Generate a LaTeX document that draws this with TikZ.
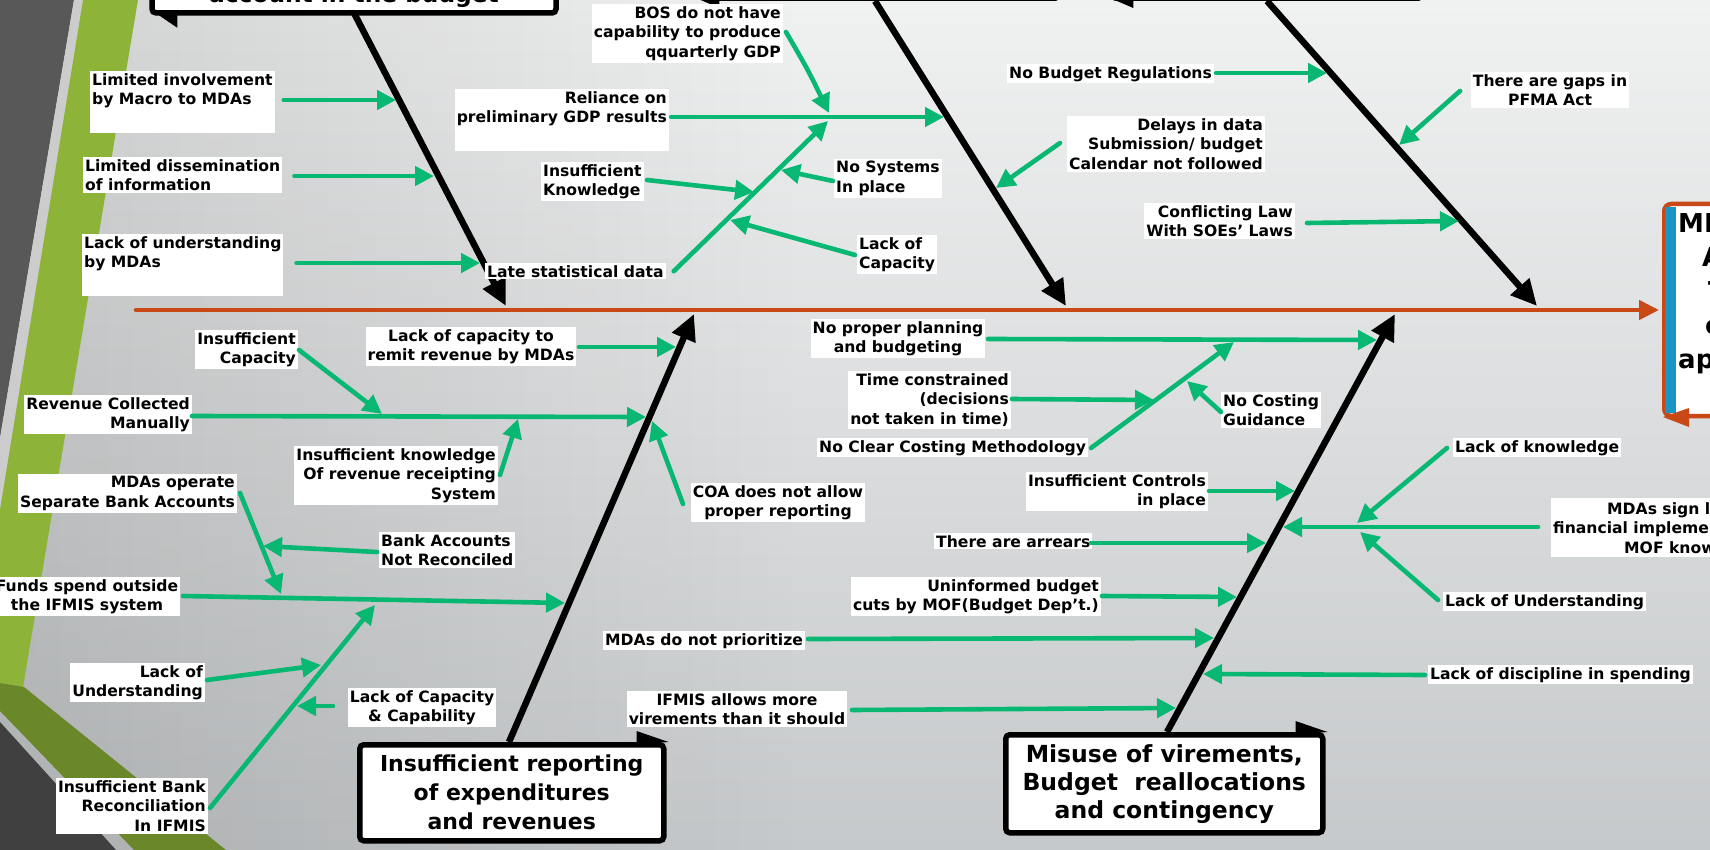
\documentclass[tikz,border=0pt]{standalone}
\usepackage{fontspec}
\setmainfont{DejaVu Sans}
\usetikzlibrary{arrows.meta,fadings}
\definecolor{grn}{RGB}{8,184,114}
\definecolor{org}{RGB}{200,72,22}
\definecolor{blu}{RGB}{26,148,196}
\definecolor{olv}{RGB}{106,136,42}
\definecolor{lgr}{RGB}{141,180,56}
\definecolor{dgy}{RGB}{88,88,88}
\definecolor{dgyb}{RGB}{64,64,64}
\definecolor{bgt}{RGB}{240,241,241}
\definecolor{bgb}{RGB}{198,201,203}
\newcommand\lblf{\bfseries\fontsize{15.6}{19.8}\selectfont}
\newcommand\catf{\bfseries\fontsize{22}{29}\selectfont}
\newcommand\misf{\bfseries\fontsize{23.5}{28}\selectfont}
\tikzfading[name=fadr, left color=transparent!0, right color=transparent!100]
\begin{document}
\begin{tikzpicture}[x=1pt,y=-1pt,
  lbl/.style={fill=white,inner xsep=2pt,inner ysep=2pt,font=\lblf},
  garr/.style={draw=grn,line width=4.6pt,line cap=round,-{Triangle[length=19pt,width=19pt]}},
  bone/.style={draw=black,line width=6.5pt,-{Triangle[length=26pt,width=24pt]}},
  catbox/.style={draw=black,fill=white,line width=5.5pt,rounded corners=4pt,align=center,inner sep=3pt}]
\useasboundingbox (0,0) rectangle (1710,850);
\clip (0,0) rectangle (1710,850);
% background
\shade[top color=bgt,bottom color=bgb] (0,0) rectangle (1710,850);
\fill[black,opacity=0.13,path fading=fadr] (0,0) rectangle (800,850);
\fill[dgy] (0,0) -- (74,0) -- (0,438) -- cycle;
\fill[black!20] (74,0) -- (83,0) -- (0,510) -- (0,438) -- cycle;
\fill[lgr] (83,0) -- (138,0) -- (23,687) -- (0,683) -- (0,510) -- cycle;
\fill[olv] (0,683) -- (24,687) -- (226,850) -- (134,850) -- (0,711) -- cycle;
\fill[dgyb] (0,722) -- (116,850) -- (0,850) -- cycle;

% effect box
\node[draw=org,line width=4.5pt,fill=white,rounded corners=7pt,minimum width=120pt,minimum height=212pt,anchor=west] (eff) at (1662,310) {};
\fill[blu] (1664.5,207) rectangle (1676,413);
\node[anchor=north west,inner sep=0pt,font=\bfseries\fontsize{26}{34}\selectfont,align=left] (efft) at (1678,213) {MD\\\hspace*{24pt}A\\\hspace*{30pt}T\\\hspace*{27pt}c\\ap};
\fill[org] (1663,417) -- (1689,408) -- (1689,427) -- cycle;

% spine
\coordinate (sp0) at (136,310);
\draw[org,line width=4.6pt,line cap=round,-{Triangle[length=20pt,width=19pt]}] (sp0) -- ([xshift=-3pt]eff.west);

% bones
\coordinate (b1s) at (354,13);  \coordinate (t1) at (506,306);
\coordinate (b2s) at (875,1);   \coordinate (t2) at (1066,306);
\coordinate (b3s) at (1267,1);  \coordinate (t3) at (1537,306);
\coordinate (b4s) at (509,742); \coordinate (t4) at (694,314);
\coordinate (b5s) at (1167,732);\coordinate (t5) at (1395,314);
\draw[bone] (b1s) -- (t1);
\draw[bone] (b2s) -- (t2);
\draw[bone] (b3s) -- (t3);
\draw[bone] (b4s) -- (t4);
\draw[bone] (b5s) -- (t5);

% top category boxes (cut by the frame)
\node[catbox,minimum width=404pt,text height=40pt,text depth=7pt,inner ysep=3pt,font=\bfseries\fontsize{23.3}{29}\selectfont,anchor=base] (topA) at (354,3) {account in the budget};
\node[catbox,minimum width=356pt,minimum height=50pt,anchor=south] (topB) at (881,1) {};
\node[catbox,minimum width=310pt,minimum height=50pt,anchor=south] (topC) at (1267,1) {};
\fill ([shift={(6,-3)}]topA.south west) -- ++(22,2) -- ++(0,13) -- cycle;
\fill ([shift={(-2,-2)}]topB.south west) -- ++(21,1) -- ++(0,8) -- cycle;
\fill ([shift={(3,-2)}]topC.south west) -- ++(21,1) -- ++(0,8) -- cycle;

% labels
\node[lbl,anchor=north west,align=left] (L1) at (90,71) {Limited involvement\\by Macro to MDAs\\\strut};
\node[lbl,anchor=north west,align=left] (L2) at (83,157) {Limited dissemination\\of information};
\node[lbl,anchor=north west,align=left] (L3) at (82,234) {Lack of understanding\\by MDAs\\\strut};
\node[lbl,anchor=north west] (L4) at (485,263) {Late statistical data};
\node[lbl,anchor=north east,align=right] (L5) at (669,89) {Reliance on\\preliminary GDP results\\\strut};
\node[lbl,anchor=north east,align=right] (L6) at (783,4) {BOS do not have\\capability to produce\\qquarterly GDP};
\node[lbl,anchor=north west,align=left] (L7) at (541,162) {Insufficient\\Knowledge};
\node[lbl,anchor=north west,align=left] (L8) at (834,159) {No Systems\\In place};
\node[lbl,anchor=north west,align=left] (L9) at (857,235) {Lack of\\Capacity};
\node[lbl,anchor=north west] (L10) at (1007,64) {No Budget Regulations};
\node[lbl,anchor=north east,align=right] (L11) at (1265,116) {Delays in data\\Submission/ budget\\Calendar not followed};
\node[lbl,anchor=north east,align=right] (L12) at (1295,203) {Conflicting Law\\With SOEs’ Laws};
\node[lbl,anchor=north,align=center] (L13) at (1550,72) {There are gaps in\\PFMA Act};
\node[lbl,anchor=north east,align=right] (L14) at (298,330) {Insufficient\\Capacity};
\node[lbl,anchor=north,align=center] (L15) at (471,327) {Lack of capacity to\\remit revenue by MDAs};
\node[lbl,anchor=north east,align=right] (L16) at (192,395) {Revenue Collected\\Manually};
\node[lbl,anchor=north east,align=right] (L17) at (498,446) {Insufficient knowledge\\Of revenue receipting\\System};
\node[lbl,anchor=north,align=center] (L18) at (778,483) {COA does not allow\\proper reporting};
\node[lbl,anchor=north east,align=right] (L19) at (237,474) {MDAs operate\\Separate Bank Accounts};
\node[lbl,anchor=north west,align=left] (L20) at (379,532) {Bank Accounts\\Not Reconciled};
\node[lbl,anchor=north,align=center] (L21) at (87,577) {Funds spend outside\\the IFMIS system};
\node[lbl,anchor=north east,align=right] (L22) at (205,663) {Lack of\\Understanding};
\node[lbl,anchor=north,align=center] (L23) at (422,688) {Lack of Capacity\\\& Capability};
\node[lbl,anchor=north east,align=right] (L24) at (208,778) {Insufficient Bank\\Reconciliation\\In IFMIS};
\node[lbl,anchor=north,align=center] (L25) at (898,319) {No proper planning\\and budgeting};
\node[lbl,anchor=north east,align=right] (L26) at (1011,371) {Time constrained\\(decisions\\not taken in time)};
\node[lbl,anchor=north west] (L27) at (817,438) {No Clear Costing Methodology};
\node[lbl,anchor=north west,align=left] (L28) at (1221,392) {No Costing\\Guidance};
\node[lbl,anchor=north east,align=right] (L29) at (1208,472) {Insufficient Controls\\in place};
\node[lbl,anchor=north west] (L30) at (934,533) {There are arrears};
\node[lbl,anchor=north east,align=right] (L31) at (1101,577) {Uninformed budget\\cuts by MOF(Budget Dep't.)};
\node[lbl,anchor=north west] (L32) at (603,631) {MDAs do not prioritize};
\node[lbl,anchor=north,align=center] (L33) at (737,691) {IFMIS allows more\\virements than it should};
\node[lbl,anchor=north west] (L34) at (1453,438) {Lack of knowledge};
\node[fill=white,minimum width=170pt,minimum height=59pt,anchor=north west,inner sep=0pt] (L35) at (1551,498) {};
\node[anchor=base west,font=\lblf,inner sep=0pt] (L35a) at (1607,514) {MDAs sign l};
\node[anchor=base west,font=\lblf,inner sep=0pt] (L35b) at (1553,533) {financial implementation};
\node[anchor=base west,font=\lblf,inner sep=0pt] (L35c) at (1624,553) {MOF knowledge};
\node[lbl,anchor=north west] (L36) at (1443,592) {Lack of Understanding};
\node[lbl,anchor=north west] (L37) at (1428,665) {Lack of discipline in spending};

% green connectors: bone 1
\coordinate (a1) at (396,100);
\coordinate (a2) at (434,176);
\coordinate (a3) at (480,263);
\draw[garr] ([xshift=9pt]L1.east |- a1) -- (a1);
\draw[garr] ([xshift=12pt]L2.east |- a2) -- (a2);
\draw[garr] ([xshift=13pt]L3.east |- a3) -- (a3);
% bone 2
\coordinate (a5) at (944,117);
\coordinate (j1a) at (829,113);
\coordinate (j1b) at (828,121);
\coordinate (s6) at (786,32);
\coordinate (s7) at (647,180); \coordinate (a7) at (754,192);
\coordinate (s8) at (833,181); \coordinate (a8) at (781,170);
\coordinate (s9) at (855,255); \coordinate (a9) at (730,220);
\coordinate (s11) at (1060,143); \coordinate (a11) at (996,188);
\draw[garr] ([xshift=2pt]L5.east |- a5) -- (a5);
\draw[garr] (s6) .. controls (808,70) .. (j1a);
\draw[garr] ([xshift=8pt]L4.east) -- (j1b);
\draw[garr] (s7) -- (a7);
\draw[garr] (s8) -- (a8);
\draw[garr] (s9) -- (a9);
\draw[garr] (s11) -- (a11);
% bone 3
\coordinate (a10) at (1327,73);
\coordinate (s12) at (1307,223); \coordinate (a12) at (1459,221);
\coordinate (s13) at (1460,91); \coordinate (a13) at (1399,145);
\draw[garr] ([xshift=2pt]L10.east |- a10) -- (a10);
\draw[garr] (s12) -- (a12);
\draw[garr] (s13) -- (a13);
% bone 4
\coordinate (s15) at (579,347); \coordinate (a15) at (676,347);
\coordinate (s16) at (192,416); \coordinate (a16) at (646,417);
\coordinate (s14) at (299,350); \coordinate (a14) at (382,414);
\coordinate (s17) at (500,475); \coordinate (a17) at (518,419);
\coordinate (s18) at (683,504); \coordinate (a18) at (652,421);
\coordinate (s19) at (240,493); \coordinate (a19) at (281,594);
\coordinate (s20) at (377,552); \coordinate (a20) at (263,546);
\coordinate (s21) at (183,596); \coordinate (a21) at (565,603);
\coordinate (s22) at (207,680); \coordinate (a22) at (321,665);
\coordinate (s23) at (333,706); \coordinate (a23) at (297,706);
\coordinate (s24) at (210,808); \coordinate (a24) at (375,605);
\draw[garr] (s15) -- (a15);
\draw[garr] (s16) -- (a16);
\draw[garr] (s14) -- (a14);
\draw[garr] (s17) -- (a17);
\draw[garr] (s18) -- (a18);
\draw[garr] (s19) -- (a19);
\draw[garr] (s20) -- (a20);
\draw[garr] (s21) -- (a21);
\draw[garr] (s22) -- (a22);
\draw[garr] (s23) -- (a23);
\draw[garr] (s24) -- (a24);
% bone 5
\coordinate (s25) at (988,339); \coordinate (a25) at (1377,340);
\coordinate (s26) at (1012,399); \coordinate (a26) at (1154,400);
\coordinate (s27) at (1091,448); \coordinate (a27) at (1234,342);
\coordinate (s28) at (1221,412); \coordinate (a28) at (1187,381);
\coordinate (s29) at (1209,491); \coordinate (a29) at (1295,491);
\coordinate (s30) at (1091,543); \coordinate (a30) at (1266,543);
\coordinate (s31) at (1102,596); \coordinate (a31) at (1237,597);
\coordinate (s32) at (808,639); \coordinate (a32) at (1214,638);
\coordinate (s33) at (852,710); \coordinate (a33) at (1176,708);
\coordinate (s34) at (1447,448); \coordinate (a34) at (1357,523);
\coordinate (s35) at (1538,527); \coordinate (a35) at (1283,527);
\coordinate (s36) at (1438,600); \coordinate (a36) at (1360,532);
\coordinate (s37) at (1425,675); \coordinate (a37) at (1203,674);
\draw[garr] (s25) -- (a25);
\draw[garr] (s26) -- (a26);
\draw[garr] (s27) -- (a27);
\draw[garr] (s28) -- (a28);
\draw[garr] (s29) -- (a29);
\draw[garr] (s30) -- (a30);
\draw[garr] (s31) -- (a31);
\draw[garr] (s32) -- (a32);
\draw[garr] (s33) -- (a33);
\draw[garr] (s34) -- (a34);
\draw[garr] (s35) -- (a35);
\draw[garr] (s36) -- (a36);
\draw[garr] (s37) -- (a37);

% lower category boxes
\node[catbox,font=\catf,minimum width=304pt,minimum height=96pt,anchor=north west] (ins) at (357,742) {Insufficient reporting\\of expenditures\\and revenues};
\fill ([shift={(-30,-11)}]ins.north east) -- ++(0,14) -- ([shift={(2,0)}]ins.north east) -- cycle;
\node[catbox,font=\misf,minimum width=317pt,minimum height=98pt,anchor=north west] (mis) at (1003,732) {Misuse of virements,\\Budget\ \ reallocations\\and contingency};
\fill ([shift={(-30,-11)}]mis.north east) -- ++(0,14) -- ([shift={(2,0)}]mis.north east) -- cycle;
\end{tikzpicture}
\end{document}
